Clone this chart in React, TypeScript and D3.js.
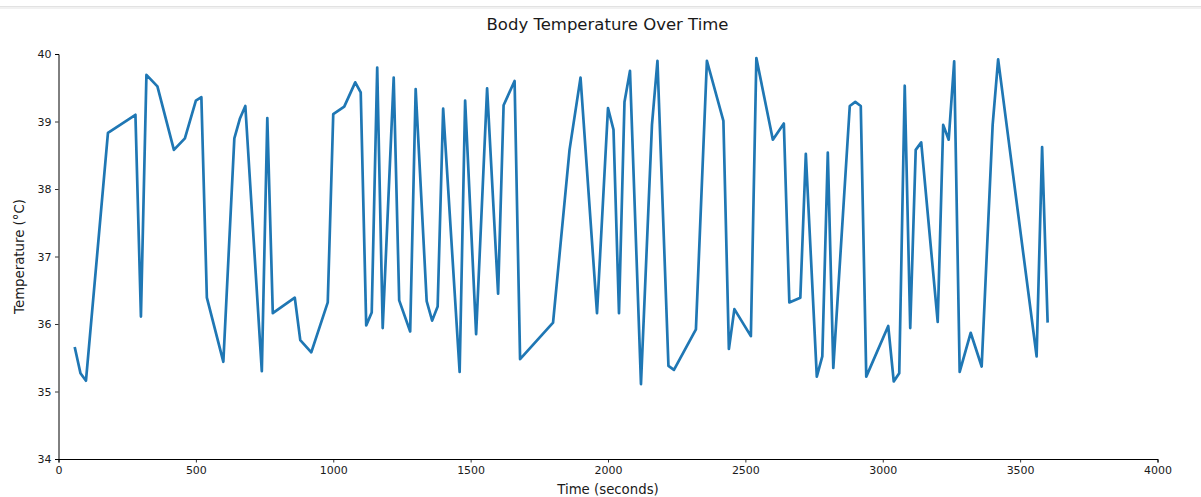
import React, { useEffect, useRef } from 'react';
import * as d3 from 'd3';

// time (s) and temperature (°C)
const times = [
  60, 80, 100, 180, 280, 300, 320, 360, 420, 460, 500, 520, 540, 600, 640, 660, 680, 740, 760, 780,
  860, 880, 920, 980, 1000, 1040, 1080, 1100, 1120, 1140, 1160, 1180, 1220, 1240, 1280, 1300, 1340,
  1360, 1380, 1400, 1460, 1480, 1520, 1560, 1600, 1620, 1660, 1680, 1740, 1800, 1860, 1900, 1960,
  2000, 2020, 2040, 2060, 2080, 2120, 2160, 2180, 2220, 2240, 2320, 2360, 2420, 2440, 2460, 2520,
  2540, 2600, 2640, 2660, 2700, 2720, 2760, 2780, 2800, 2820, 2880, 2900, 2920, 2940, 3020, 3040,
  3060, 3080, 3100, 3120, 3140, 3200, 3220, 3240, 3260, 3280, 3320, 3360, 3400, 3420, 3560, 3580, 3600,
];
const temps = [
  35.64, 35.27, 35.16, 38.83, 39.10, 36.11, 39.69, 39.52, 38.58, 38.75, 39.31, 39.36, 36.39, 35.44,
  38.75, 39.04, 39.23, 35.30, 39.05, 36.16, 36.39, 35.76, 35.58, 36.32, 39.11, 39.22, 39.58, 39.43,
  35.98, 36.17, 39.80, 35.94, 39.65, 36.35, 35.89, 39.48, 36.34, 36.05, 36.26, 39.19, 35.29, 39.31,
  35.85, 39.49, 36.45, 39.24, 39.60, 35.48, 35.75, 36.02, 38.58, 39.65, 36.16, 39.20, 38.88, 36.16,
  39.29, 39.75, 35.11, 38.95, 39.90, 35.38, 35.32, 35.92, 39.90, 39.01, 35.63, 36.22, 35.82, 39.94,
  38.73, 38.97, 36.32, 36.39, 38.52, 35.22, 35.52, 38.54, 35.35, 39.23, 39.29, 39.23, 35.22, 35.97,
  35.15, 35.27, 39.53, 35.94, 38.58, 38.69, 36.03, 38.95, 38.73, 39.89, 35.29, 35.87, 35.37, 38.95,
  39.92, 35.52, 38.62, 36.04,
];
const xTicks = [0, 500, 1000, 1500, 2000, 2500, 3000, 3500, 4000];
const yTicks = [34, 35, 36, 37, 38, 39, 40];

const W = 1201;
const H = 497;
const FONT = '"DejaVu Sans", sans-serif';

export default function App() {
  const ref = useRef<SVGSVGElement>(null);

  useEffect(() => {
    const svg = d3.select(ref.current);
    svg.selectAll('*').remove();

    const x = d3.scaleLinear().domain([0, 4000]).range([58.5, 1157.5]);
    const y = d3.scaleLinear().domain([34, 40]).range([459, 54]);

    // top strip (browser chrome remnant)
    svg.append('rect').attr('x', 0).attr('y', 6).attr('width', W).attr('height', 1).attr('fill', '#e2e2e2');
    svg.append('rect').attr('x', 0).attr('y', 7).attr('width', W).attr('height', 2).attr('fill', '#f1f1f1');

    const data = times.map((t, i) => ({ t, v: temps[i] }));
    const line = d3.line<{ t: number; v: number }>()
      .x(d => x(d.t))
      .y(d => y(d.v));

    svg.append('path')
      .datum(data)
      .attr('fill', 'none')
      .attr('stroke', '#1f77b4')
      .attr('stroke-width', 2.7)
      .attr('stroke-linejoin', 'round')
      .attr('stroke-linecap', 'square')
      .attr('d', line);

    const xAxis = svg.append('g')
      .attr('transform', `translate(0,${y(34)})`)
      .call(d3.axisBottom(x).tickValues(xTicks).tickSize(3.5).tickPadding(3.5).tickFormat(d3.format('d')));
    const yAxis = svg.append('g')
      .attr('transform', `translate(${x(0)},0)`)
      .call(d3.axisLeft(y).tickValues(yTicks).tickSize(3.5).tickPadding(3.5).tickFormat(d3.format('d')));

    [xAxis, yAxis].forEach(g => {
      g.select('.domain').attr('stroke', '#000').attr('stroke-width', 1);
      g.selectAll('.tick line').attr('stroke', '#000').attr('stroke-width', 0.8);
      g.selectAll('.tick text').attr('fill', '#1a1a1a').attr('font-size', '11px').attr('font-family', FONT);
    });

    svg.append('text')
      .attr('x', 607.5)
      .attr('y', 30)
      .attr('text-anchor', 'middle')
      .attr('font-family', FONT)
      .attr('font-size', '16.5px')
      .attr('fill', '#1a1a1a')
      .text('Body Temperature Over Time');

    svg.append('text')
      .attr('x', 608)
      .attr('y', 494)
      .attr('text-anchor', 'middle')
      .attr('font-family', FONT)
      .attr('font-size', '13.3px')
      .attr('fill', '#1a1a1a')
      .text('Time (seconds)');

    svg.append('text')
      .attr('transform', `translate(24,${y(37)}) rotate(-90)`)
      .attr('text-anchor', 'middle')
      .attr('font-family', FONT)
      .attr('font-size', '13.3px')
      .attr('fill', '#1a1a1a')
      .text('Temperature (°C)');
  }, []);

  return (
    <svg
      ref={ref}
      width={W}
      height={H}
      viewBox={`0 0 ${W} ${H}`}
      style={{ position: 'absolute', left: 0, top: 0, background: '#fff' }}
    />
  );
}
